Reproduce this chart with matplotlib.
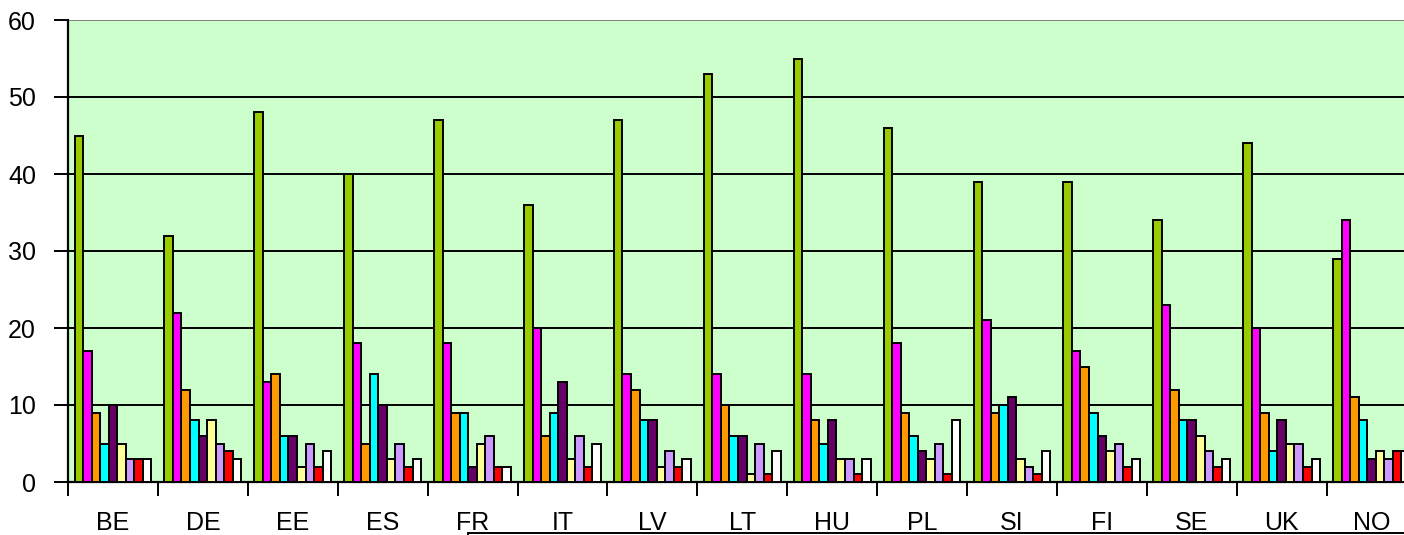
import matplotlib
matplotlib.use("Agg")
import matplotlib.pyplot as plt
import numpy as np

# 国家
countries = ["BE", "DE", "EE", "ES", "FR", "IT", "LV", "LT", "HU", "PL", "SI", "FI", "SE", "UK", "NO"]

# 9 个系列（每个国家一组）
s_green    = [45, 32, 48, 40, 47, 36, 47, 53, 55, 46, 39, 39, 34, 44, 29]
s_magenta  = [17, 22, 13, 18, 18, 20, 14, 14, 14, 18, 21, 17, 23, 20, 34]
s_orange   = [9, 12, 14, 5, 9, 6, 12, 10, 8, 9, 9, 15, 12, 9, 11]
s_cyan     = [5, 8, 6, 14, 9, 9, 8, 6, 5, 6, 10, 9, 8, 4, 8]
s_purple   = [10, 6, 6, 10, 2, 13, 8, 6, 8, 4, 11, 6, 8, 8, 3]
s_yellow   = [5, 8, 2, 3, 5, 3, 2, 1, 3, 3, 3, 4, 6, 5, 4]
s_lavender = [3, 5, 5, 5, 6, 6, 4, 5, 3, 5, 2, 5, 4, 5, 3]
s_red      = [3, 4, 2, 2, 2, 2, 2, 1, 1, 1, 1, 2, 2, 2, 4]
s_white    = [3, 3, 4, 3, 2, 5, 3, 4, 3, 8, 4, 3, 3, 3, 4]

series = [s_green, s_magenta, s_orange, s_cyan, s_purple, s_yellow, s_lavender, s_red, s_white]
colors = ["#99CC00", "#FF00FF", "#FF9900", "#00FFFF", "#660066",
          "#FFFF99", "#CC99FF", "#FF0000", "#FFFFFF"]

plt.rcParams['font.family'] = ['Liberation Sans', 'DejaVu Sans']

fig = plt.figure(figsize=(14.04, 5.35), dpi=100)
ax = fig.add_axes([68 / 1404, 1 - 482 / 535, 1348.5 / 1404, 462 / 535])
ax.set_facecolor("#CCFFCC")

x = np.arange(len(countries))
w = 0.095
n = len(series)
for i, (vals, c) in enumerate(zip(series, colors)):
    offs = (i - (n - 1) / 2) * w
    ax.bar(x + offs, vals, width=w, color=c, edgecolor="black", linewidth=1.4, zorder=3)

ax.set_xlim(-0.5, len(countries) - 0.5)
ax.set_ylim(0, 60)
ax.set_yticks(np.arange(0, 61, 10))
ax.yaxis.grid(True, color="black", linewidth=1.4, zorder=1)
ax.set_axisbelow(True)

# x 轴：标签在中间，刻度在分界处
ax.set_xticks(x)
ax.set_xticklabels(countries, fontsize=18)
ax.tick_params(axis="x", which="major", length=0, pad=21)
ax.set_xticks(np.arange(-0.5, len(countries), 1), minor=True)
ax.tick_params(axis="x", which="minor", length=10, width=1.4, direction="out")
ax.tick_params(axis="y", length=10, width=1.4, direction="out", pad=13, labelsize=18)

for side in ["top", "right"]:
    ax.spines[side].set_visible(False)
ax.spines["left"].set_linewidth(1.6)
ax.spines["bottom"].set_linewidth(1.6)
ax.get_ygridlines()[-1].set_color("#808080")

# 底部多出的一条线
fig.add_artist(plt.Line2D([468 / 1404, 1.0], [1 - 533 / 535, 1 - 533 / 535], color="black", linewidth=1.4))
fig.add_artist(plt.Line2D([468 / 1404, 468 / 1404], [1 - 533 / 535, 0], color="black", linewidth=1.4))

fig.savefig("out.png", dpi=100)
